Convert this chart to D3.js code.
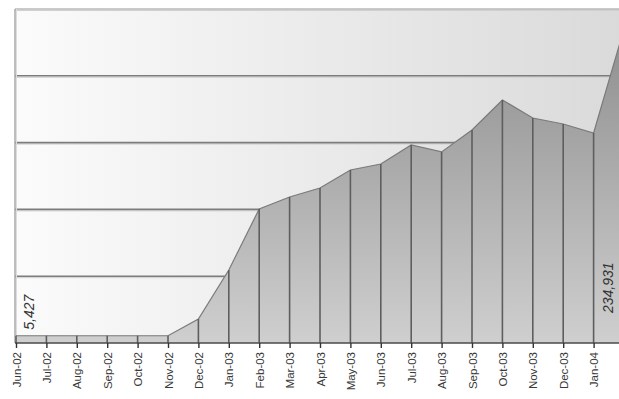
<!DOCTYPE html>
<html>
<head>
<meta charset="utf-8">
<script src="https://cdnjs.cloudflare.com/ajax/libs/d3/7.8.5/d3.min.js"></script>
<style>
  html, body { margin: 0; padding: 0; background: #fff; }
  svg { display: block; }
</style>
</head>
<body>
<div id="chart"></div>
<script>
const WIDTH = 619;
const HEIGHT = 399;

const months = ['Jun-02', 'Jul-02', 'Aug-02', 'Sep-02', 'Oct-02', 'Nov-02', 'Dec-02', 'Jan-03', 'Feb-03', 'Mar-03',
    'Apr-03', 'May-03', 'Jun-03', 'Jul-03', 'Aug-03', 'Sep-03', 'Oct-03', 'Nov-03', 'Dec-03', 'Jan-04', 'Feb-04'];
const values = [5427, 5427, 5427, 5427, 5427, 5427, 18000, 54600, 100300, 109300,
    116000, 129500, 134000, 148200, 143000, 159400, 181900, 168400, 163900, 157200, 234931];
const gridValues = [0, 50000, 100000, 150000, 200000, 250000];
const labelledPoints = [0, 20];

const margin = {left: 15, top: 9, bottom: 56};

var svg = d3.select("#chart").append("svg")
    .attr("width", WIDTH)
    .attr("height", HEIGHT);

var xScale = d3.scaleLinear()
    .domain([0, months.length - 1])
    .range([16, 624]);

var yScale = d3.scaleLinear()
    .domain([0, 250000])
    .range([HEIGHT - margin.bottom, margin.top]);

var defs = svg.append("defs");

var bgGrad = defs.append("linearGradient")
    .attr("id", "bg-grad")
    .attr("x1", "0%").attr("x2", "100%")
    .attr("y1", "0%").attr("y2", "0%");
bgGrad.append("stop").attr("offset", "0%").attr("stop-color", "#fbfbfb");
bgGrad.append("stop").attr("offset", "100%").attr("stop-color", "#d9d9d9");

var areaGrad = defs.append("linearGradient")
    .attr("id", "area-grad")
    .attr("gradientUnits", "userSpaceOnUse")
    .attr("x1", 0).attr("x2", 0)
    .attr("y1", yScale(250000)).attr("y2", yScale(0));
areaGrad.append("stop").attr("offset", "0%").attr("stop-color", "#8a8a8a");
areaGrad.append("stop").attr("offset", "100%").attr("stop-color", "#cfcfcf");

// plot background
svg.append("rect")
    .attr("x", margin.left)
    .attr("y", yScale(250000))
    .attr("width", 640 - margin.left)
    .attr("height", yScale(0) - yScale(250000))
    .attr("fill", "url(#bg-grad)");

// gridlines
gridValues.slice(1).forEach(v => {
    svg.append("line")
        .attr("x1", margin.left).attr("x2", 640)
        .attr("y1", yScale(v) + 1.5).attr("y2", yScale(v) + 1.5)
        .attr("stroke", "#d0d0d0")
        .attr("stroke-width", 1);
    svg.append("line")
        .attr("x1", margin.left).attr("x2", 640)
        .attr("y1", yScale(v)).attr("y2", yScale(v))
        .attr("stroke", v === 250000 ? "#b8b8b8" : "#7c7c7c")
        .attr("stroke-width", v === 250000 ? 1.5 : 1.6);
});

// left border
svg.append("line")
    .attr("x1", margin.left).attr("x2", margin.left)
    .attr("y1", yScale(250000)).attr("y2", yScale(0))
    .attr("stroke", "#a8a8a8")
    .attr("stroke-width", 1.5);
svg.append("line")
    .attr("x1", margin.left + 1.5).attr("x2", margin.left + 1.5)
    .attr("y1", yScale(250000)).attr("y2", yScale(0))
    .attr("stroke", "#dcdcdc")
    .attr("stroke-width", 1);

// area
var area = d3.area()
    .x((d, i) => xScale(i))
    .y0(yScale(0))
    .y1(d => yScale(d));

var line = d3.line()
    .x((d, i) => xScale(i))
    .y(d => yScale(d));

svg.append("path")
    .datum(values)
    .attr("fill", "url(#area-grad)")
    .attr("d", area);

svg.append("path")
    .datum(values)
    .attr("fill", "none")
    .attr("stroke", "#7a7a7a")
    .attr("stroke-width", 1.2)
    .attr("d", line);

// drop lines
svg.selectAll(".drop")
    .data(values)
    .enter()
    .append("line")
        .attr("class", "drop")
        .attr("x1", (d, i) => xScale(i))
        .attr("x2", (d, i) => xScale(i))
        .attr("y1", d => yScale(d))
        .attr("y2", yScale(0))
        .attr("stroke", "#5e5e5e")
        .attr("stroke-width", 1.6);

// x axis
var xAxis = d3.axisBottom(xScale)
    .tickValues(d3.range(months.length))
    .tickFormat(i => months[i])
    .tickSize(5)
    .tickSizeOuter(0);

var axisG = svg.append("g")
    .attr("transform", `translate(0,${yScale(0)})`)
    .call(xAxis);

axisG.select(".domain")
    .attr("stroke", "#4a4a4a")
    .attr("stroke-width", 1.6)
    .attr("d", `M${margin.left},0H640`);

axisG.selectAll(".tick line")
    .attr("stroke", "#333")
    .attr("stroke-width", 1.4);

axisG.selectAll(".tick text")
    .attr("font-family", "Liberation Sans, Arial, sans-serif")
    .attr("font-size", "11.5px")
    .attr("fill", "#3a3a3a")
    .attr("text-anchor", "end")
    .attr("transform", "rotate(-90)")
    .attr("x", -9)
    .attr("y", 0)
    .attr("dy", "0.35em");

// data labels
svg.selectAll(".dlabel")
    .data(labelledPoints)
    .enter()
    .append("text")
        .attr("class", "dlabel")
        .attr("font-family", "Liberation Sans, Arial, sans-serif")
        .attr("font-style", "italic")
        .attr("font-size", "14px")
        .attr("fill", "#333")
        .attr("transform", i => i === 0
            ? `translate(${xScale(i) + 18},${yScale(values[i]) - 6}) rotate(-90)`
            : `translate(${xScale(i - 1) + 19},${yScale(0) - 30}) rotate(-90)`)
        .text(i => d3.format(",")(values[i]));
</script>
</body>
</html>
